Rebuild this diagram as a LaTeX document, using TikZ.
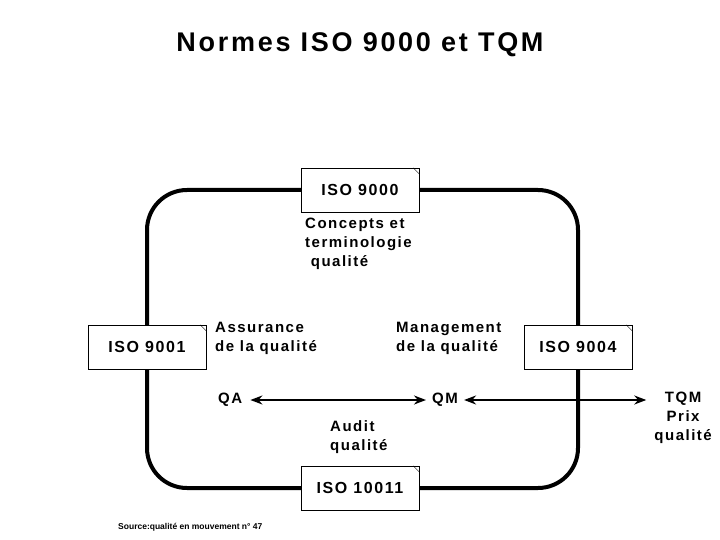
\documentclass[tikz,border=0pt]{standalone}
\usepackage{fontspec}
\setmainfont[LetterSpace=10]{Liberation Sans}
\newfontfamily\plainsans{Liberation Sans}
\usetikzlibrary{positioning,arrows.meta}
\tikzset{
  normbox/.style={draw, fill=white, thin, minimum width=118pt, minimum height=44pt, font=\bfseries\fontsize{16}{18}\selectfont},
  txt/.style={font=\bfseries\fontsize{15}{19}\selectfont, align=left, inner sep=0pt},
}
\begin{document}
\begin{tikzpicture}[x=1pt, y=-1pt]
  \useasboundingbox (0,0) rectangle (720,540);
  \node[font=\bfseries\fontsize{27}{30}\selectfont] (title) at (360,45) {Normes ISO 9000 et TQM};
  % cycle
  \draw[line width=4pt, rounded corners=40pt] (147,190) rectangle (578,488);
  \node[normbox] (n9000) at (360,190) {ISO 9000};
  \node[normbox] (n9001) at (147,347) {ISO 9001};
  \node[normbox, minimum width=108pt] (n9004) at (578,347) {ISO 9004};
  \node[normbox] (n10011) at (360,488) {ISO 10011};
  \foreach \b in {n9000,n9001,n9004,n10011}{
    \draw[thin] ([xshift=-6pt]\b.north east) -- ([yshift=-6pt]\b.north east);
  };
  % labels
  \node[txt, anchor=north west] (concepts) at (305,218) {Concepts et\\terminologie\\\ qualité};
  \node[txt, anchor=north west] (qa-txt) at (215,322) {Assurance\\de la qualité};
  \node[txt, anchor=north west] (qm-txt) at (396,322) {Management\\de la qualité};
  \node[txt, anchor=west] (qa) at (218,400) {QA};
  \node[txt, anchor=west] (qm) at (432,400) {QM};
  \node[txt, anchor=north west] (audit) at (330,420) {Audit\\qualité};
  \node[txt, anchor=east, align=center] (tqm) at (712,418) {TQM\\Prix\\qualité};
  \draw[{Stealth[length=12pt,width=9pt]}-{Stealth[length=12pt,width=9pt]}, line width=2pt] ([xshift=8pt]qa.east) -- ([xshift=-6pt]qm.west);
  \draw[{Stealth[length=12pt,width=9pt]}-{Stealth[length=12pt,width=9pt]}, line width=2pt] ([xshift=6pt]qm.east) -- ([xshift=-8pt]tqm.west |- qm.east);
  \node[font=\plainsans\bfseries\fontsize{8.5}{10}\selectfont, anchor=west, inner sep=0pt] (source) at (118,527) {Source:qualité en mouvement n° 47};
\end{tikzpicture}
\end{document}
